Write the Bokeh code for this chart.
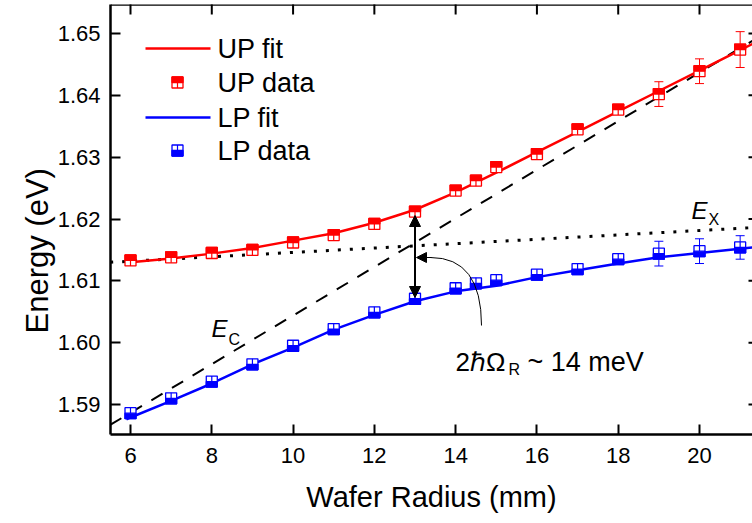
from bokeh.plotting import figure
from bokeh.models import (FixedTicker, PrintfTickFormatter, Range1d, Span, Title,
                          Arrow, NormalHead, Whisker, ColumnDataSource, TeeHead)
from bokeh.embed import file_html
from bokeh.resources import INLINE
from bokeh.core.properties import value

# ---------------- data ----------------
up_x = [6, 7, 8, 9, 10, 11, 12, 13, 14, 14.5, 15, 16, 17, 18, 19, 20, 21]
up_y = [1.6133, 1.6138, 1.6145, 1.6150, 1.6162, 1.6174, 1.6192, 1.6212, 1.6246,
        1.6262, 1.6284, 1.6305, 1.6345, 1.6377, 1.6402, 1.6439, 1.6474]
lp_x = [6, 7, 8, 9, 10, 11, 12, 13, 14, 14.5, 15, 16, 17, 18, 19, 20, 21]
lp_y = [1.5886, 1.5910, 1.5937, 1.5965, 1.5995, 1.6022, 1.6049, 1.6071, 1.6088,
        1.6096, 1.6101, 1.6110, 1.6119, 1.6135, 1.6144, 1.6148, 1.6154]

fit_x = [5.9, 6, 7, 8, 9, 10, 11, 12, 13, 14, 15, 16, 17, 18, 19, 20, 21, 21.3]
up_fit = [1.6129, 1.6130, 1.6136, 1.6144, 1.6153, 1.6165, 1.6177, 1.6194, 1.6215,
          1.6243, 1.6275, 1.6308, 1.6341, 1.6374, 1.6407, 1.6440, 1.6473, 1.6483]
lp_fit = [1.5876, 1.5879, 1.5906, 1.5934, 1.5965, 1.5992, 1.6021, 1.6045, 1.6067,
          1.6083, 1.6092, 1.6106, 1.6117, 1.6128, 1.6138, 1.6145, 1.6152, 1.6154]

ec_x = [5.5, 21.3]
ec_y = [1.5867, 1.6488]
ex_x = [5.5, 21.3]
ex_y = [1.6130, 1.6186]

up_err_x = [19, 20, 21]
up_err = [0.0020, 0.0020, 0.0029]
lp_err_x = [19, 20, 21]
lp_err = [0.0020, 0.0020, 0.0019]

rabi_x = 13

x_ticks = [6, 8, 10, 12, 14, 16, 18, 20]
y_ticks = [1.59, 1.60, 1.61, 1.62, 1.63, 1.64, 1.65]

# ---------------- layout ----------------
W, H = 752, 523
FL, FT, FB = 110, 4, 434           # frame left / top / bottom (px)
ppx = 569 / 14.0                   # px per mm
ppy = 371 / 0.06                   # px per eV
xs0 = 6 - (130 - FL) / ppx
xs1 = 6 + (W - 130) / ppx
ys1 = 1.65 + (33 - FT) / ppy
ys0 = 1.59 - (FB - 404) / ppy

def X(sx):   # pixel -> data
    return xs0 + (sx - FL) / ppx

def Y(sy):
    return ys1 - (sy - FT) / ppy

FONT = "Liberation Sans"

p = figure(width=W, height=H, x_range=Range1d(xs0, xs1), y_range=Range1d(ys0, ys1),
           output_backend="svg", toolbar_location=None,
           min_border_left=FL, min_border_right=0, min_border_top=FT,
           min_border_bottom=H - FB,
           x_axis_label="Wafer Radius (mm)")
p.grid.visible = False
p.outline_line_color = None
p.background_fill_color = "white"
p.border_fill_color = "white"

for ax in (p.xaxis[0], p.yaxis[0]):
    ax.axis_line_width = 2.5
    ax.major_tick_in = 10
    ax.major_tick_out = 0
    ax.minor_tick_in = 0
    ax.minor_tick_out = 0
    ax.major_tick_line_width = 2
    ax.major_label_text_font = FONT
    ax.major_label_text_font_size = "22px"
    ax.major_label_text_color = "black"
    ax.axis_label_text_font = FONT
    ax.axis_label_text_font_size = "29px"
    ax.axis_label_text_font_style = "normal"
    ax.axis_label_text_color = "black"
p.xaxis[0].ticker = FixedTicker(ticks=x_ticks)
p.yaxis[0].ticker = FixedTicker(ticks=y_ticks)
p.yaxis[0].formatter = PrintfTickFormatter(format="%.2f")
p.xaxis[0].major_label_standoff = 13
p.yaxis[0].major_label_standoff = 10
p.xaxis[0].axis_label_standoff = 15

# y-axis title, shifted down like in the reference
p.add_layout(Title(text="Energy (eV)", align="left", offset=101, standoff=0,
                   text_font=FONT, text_font_size="31px", text_font_style="normal",
                   text_color="black"), "left")

# top border line and inward ticks on top / right edges
p.add_layout(Span(location=ys1, dimension="width", line_color="black", line_width=2.5))
p.scatter(x_ticks, [ys1] * len(x_ticks), marker="dash", angle=1.5708, size=20,
          line_color="black", line_width=2)
p.scatter([xs1] * len(y_ticks), y_ticks, marker="dash", size=8,
          line_color="black", line_width=2)

# ---------------- guide lines ----------------
p.line(ec_x, ec_y, line_color="black", line_width=2, line_dash="13 11")
p.line(ex_x, ex_y, line_color="black", line_width=3, line_dash="3 9")

# ---------------- fits ----------------
p.line(fit_x, up_fit, line_color="#ff0000", line_width=2.5)
p.line(fit_x, lp_fit, line_color="#0000ff", line_width=2.5)

# ---------------- markers ----------------
S = 11
hd = S / ppy

def half_marker(xs, ys, color, top_filled):
    sign = 1 if top_filled else -1
    p.rect(xs, ys, width=S, height=S, width_units="screen", height_units="screen",
           fill_color="white", line_color=color, line_width=1.3)
    p.rect(xs, [y + sign * hd / 4 for y in ys], width=S, height=S / 2,
           width_units="screen", height_units="screen",
           fill_color=color, line_color=color, line_width=1.3)
    p.segment(xs, ys, xs, [y - sign * hd / 2 for y in ys], line_color=color,
              line_width=1.2)

half_marker(up_x, up_y, "#ff0000", True)
half_marker(lp_x, lp_y, "#0000ff", False)

def errbars(ex, err, xs, ys, color):
    base = [xs.index(v) for v in ex]
    yv = [ys[i] for i in base]
    src = ColumnDataSource(dict(x=ex, lo=[a - e for a, e in zip(yv, err)],
                                hi=[a + e for a, e in zip(yv, err)]))
    w = Whisker(base="x", lower="lo", upper="hi", source=src, line_color=color,
                line_width=1,
                upper_head=TeeHead(size=9, line_color=color, line_width=1),
                lower_head=TeeHead(size=9, line_color=color, line_width=1))
    p.add_layout(w)

errbars(up_err_x, up_err, up_x, up_y, "#ff0000")
errbars(lp_err_x, lp_err, lp_x, lp_y, "#0000ff")

# ---------------- Rabi splitting arrows ----------------
p.add_layout(Arrow(start=NormalHead(size=11, fill_color="black", line_color="black"),
                   end=NormalHead(size=11, fill_color="black", line_color="black"),
                   x_start=rabi_x, y_start=Y(297), x_end=rabi_x, y_end=Y(215),
                   line_width=2, line_color="black"))
p.quadratic(x0=[X(481)], y0=[Y(325)], x1=[X(430)], y1=[Y(257)],
            cx=[X(481)], cy=[Y(257)], line_color="black", line_width=1)
p.add_layout(Arrow(end=NormalHead(size=10, fill_color="black", line_color="black"),
                   x_start=X(431), y_start=Y(257), x_end=X(416), y_end=Y(257),
                   line_width=1, line_color="black"))

# ---------------- labels ----------------
def txt(sx, sy, s, size, style="normal", baseline="alphabetic"):
    p.text([X(sx)], [Y(sy)], text=[s], text_font=value(FONT), text_font_size=size,
           text_font_style=style, text_baseline=baseline, text_align="left",
           text_color="black")

txt(211, 328, "E", "24px", "italic")
txt(228, 339, "C", "16px")
txt(691, 210, "E", "24px", "italic")
txt(708, 219, "X", "16px")
txt(455, 361, "2ℏΩ", "26px")
txt(508, 369, "R", "16px")
txt(527, 361, "~ 14 meV", "27px")

# ---------------- legend (manual) ----------------
leg_y = [48, 82, 117, 150]
p.line([X(145), X(210)], [Y(leg_y[0])] * 2, line_color="#ff0000", line_width=2.5)
half_marker([X(177)], [Y(leg_y[1])], "#ff0000", True)
p.line([X(145), X(210)], [Y(leg_y[2])] * 2, line_color="#0000ff", line_width=2.5)
half_marker([X(177)], [Y(leg_y[3])], "#0000ff", False)
for sy, s in zip(leg_y, ["UP fit", "UP data", "LP fit", "LP data"]):
    txt(217, sy, s, "27px", baseline="middle")

open("out.html", "w").write(file_html(p, INLINE))
